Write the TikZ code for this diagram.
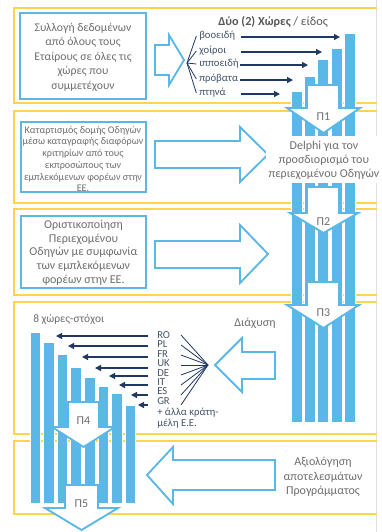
\documentclass[tikz,border=0pt]{standalone}
\usepackage{fontspec}
\setmainfont{Carlito}
\usetikzlibrary{arrows.meta}
\definecolor{ylw}{RGB}{255,211,77}
\definecolor{blu}{RGB}{91,183,229}
\definecolor{gtxt}{RGB}{110,110,110}
\definecolor{dtxt}{RGB}{89,89,89}
\definecolor{lbltxt}{RGB}{68,84,106}
\definecolor{navy}{RGB}{31,56,100}
\tikzset{
 rowline/.style={draw=ylw, line width=1.6pt},
 bluebox/.style={draw=blu, line width=1.5pt},
 hollow/.style={draw=blu, line width=1.4pt, fill=white, line join=miter},
 barf/.style={fill=blu, draw=white, line width=0.6pt},
 navarr/.style={draw=navy, line width=0.9pt, -{Triangle[length=4.5pt,width=4.5pt]}},
 fanline/.style={draw=navy, line width=0.6pt},
 txt/.style={text=gtxt, inner sep=0pt, align=center},
 lbl/.style={text=lbltxt, inner sep=0pt, anchor=west, font=\fontsize{8}{9}\selectfont},
}
\begin{document}
\begin{tikzpicture}[x=0.75pt,y=-0.75pt]
\useasboundingbox (0,0) rectangle (382,532);
\fill[white] (0,0) rectangle (382,532);
\draw[black!12, line width=0.4pt] (376,0) -- (376,532);
% rows
\foreach \a/\b in {8/103,111/203,209/295,302/434,441/514}
  \draw[rowline] (377,\a) -- (14,\a) -- (14,\b) -- (377,\b);
% left boxes
\draw[bluebox] (20,13) rectangle (146,99);
\draw[bluebox] (21,122) rectangle (146,192);
\draw[bluebox] (21,216) rectangle (146,288);
\node[txt, font=\fontsize{8.8}{10.9}\selectfont] (t1) at (83,57) {Συλλογή δεδομένων\\από όλους τους\\Εταίρους σε όλες τις\\χώρες που\\συμμετέχουν};
\node[txt, font=\fontsize{7.6}{8.8}\selectfont] (t2) at (83,159) {Καταρτισμός δομής Οδηγών\\μέσω καταγραφής διαφόρων\\κριτηρίων από τους\\εκπροσώπους των\\εμπλεκόμενων φορέων στην\\ΕΕ.};
\node[txt, font=\fontsize{9}{10.3}\selectfont] (t3) at (83.5,252.5) {Οριστικοποίηση\\Περιεχομένου\\Οδηγών με συμφωνία\\των εμπλεκόμενων\\φορέων στην ΕΕ.};
% hollow arrows
\draw[hollow] (155,45) -- (169,45) -- (169,35) -- (184,60) -- (169,85) -- (169,75) -- (155,75) -- cycle;
\draw[hollow] (155,141) -- (240,141) -- (240,127) -- (268,154.5) -- (240,182) -- (240,168) -- (155,168) -- cycle;
\draw[hollow] (155,241) -- (240,241) -- (240,225) -- (268,254) -- (240,283) -- (240,268) -- (155,268) -- cycle;
\draw[hollow] (215,365) -- (242,338) -- (242,352) -- (275,352) -- (275,379) -- (242,379) -- (242,392) -- cycle;
\draw[hollow] (147,475) -- (173,447) -- (173,460) -- (275,460) -- (275,490) -- (173,490) -- (173,504) -- cycle;
% row 1 title and labels
\node[text=dtxt, inner sep=0pt, anchor=west, font=\fontsize{9.2}{10}\selectfont] (title) at (218,22) {\textbf{Δύο (2) Χώρες} / είδος};
\coordinate (f1) at (187,63);
\foreach \n/\y/\t/\e in {1/36/βοοειδή/340,2/51/χοίροι/322,3/64/ιπποειδή/308,4/79/πρόβατα/293,5/93/πτηνά/280}{
  \node[lbl] (l\n) at (199,\y) {\t};
  \coordinate (e\n) at (\e,\y+1);
  \draw[fanline] (f1) -- ([xshift=-2]l\n.west);
}
\draw[navarr] (241,37) -- (e1);
\draw[navarr] (241,52) -- (e2);
\draw[navarr] ([xshift=1]l3.east |- e3) -- (e3);
\draw[navarr] (240,80) -- (e4);
\draw[navarr] (241,94) -- (e5);
% right bars
\foreach \x/\t in {291/91,304.3/76,317.6/59,330.9/48,344.2/33}
  \draw[barf] (\x,\t) rectangle ++(11,422-\t);
\fill[white] (266,136) rectangle (382,183);
\node[txt, font=\fontsize{9}{10.3}\selectfont] (delphi) at (324,160.5) {Delphi για τον\\προσδιορισμό του\\περιεχομένου Οδηγών};
\draw[hollow] (307,85) -- (339,85) -- (339,108) -- (360,108) -- (323.5,133) -- (287,108) -- (307,108) -- cycle;
\draw[hollow] (307,187) -- (339,187) -- (339,213) -- (358,213) -- (323.5,233) -- (290,213) -- (307,213) -- cycle;
\draw[hollow] (307,282) -- (339,282) -- (339,305) -- (359,305) -- (323.5,328) -- (287,305) -- (307,305) -- cycle;
\node[txt, font=\fontsize{9}{10}\selectfont] (p1) at (323.5,117) {Π1};
\node[txt, font=\fontsize{9}{10}\selectfont] (p2) at (323.5,222) {Π2};
\node[txt, font=\fontsize{9}{10}\selectfont] (p3) at (323.5,313) {Π3};
% row 4
\node[txt, font=\fontsize{8.6}{10}\selectfont, anchor=west] (goal) at (33,319) {8 χώρες-στόχοι};
\node[txt, font=\fontsize{9}{10}\selectfont] (diax) at (255,323) {Διάχυση};
\foreach \x/\t in {30/332,43.6/342,57.2/354,70.8/367,84.4/377,98/386,111.6/393,125.2/405}
  \draw[barf] (\x,\t) rectangle ++(10.5,503-\t);
\coordinate (f2) at (208,365);
\foreach \n/\y/\t/\ay/\hx in {1/335/RO/336/56,2/344.5/PL/346/68,3/354/FR/357/82,4/363.5/UK/368/95,5/373/DE/376/109,6/382.5/IT/385/119,7/391.5/ES/395/131,8/401/GR/405/138}{
  \node[lbl] (c\n) at (157,\y) {\t};
  \coordinate (s\n) at (148,\ay);
  \coordinate (h\n) at (\hx,\ay);
  \coordinate (q\n) at (181,325+\n*10);
  \draw[navarr] (s\n) -- (h\n);
  \draw[fanline] (f2) -- (q\n);
}
\node[lbl] (more1) at (157,413) {+ άλλα κράτη-};
\node[lbl] (more2) at (157,424) {μέλη Ε.Ε.};
\draw[hollow] (68,402) -- (99,402) -- (99,427) -- (115,427) -- (83.5,447) -- (52,427) -- (68,427) -- cycle;
\draw[hollow] (65,485) -- (98,485) -- (98,508) -- (118,508) -- (81.5,530) -- (45,508) -- (65,508) -- cycle;
\node[txt, font=\fontsize{9}{10}\selectfont] (p4) at (83.5,421) {Π4};
\node[txt, font=\fontsize{9}{10}\selectfont] (p5) at (81.5,504) {Π5};
% row 5
\node[txt, font=\fontsize{9}{10.8}\selectfont] (eval) at (323,477) {Αξιολόγηση\\αποτελεσμάτων\\Προγράμματος};
\end{tikzpicture}
\end{document}
